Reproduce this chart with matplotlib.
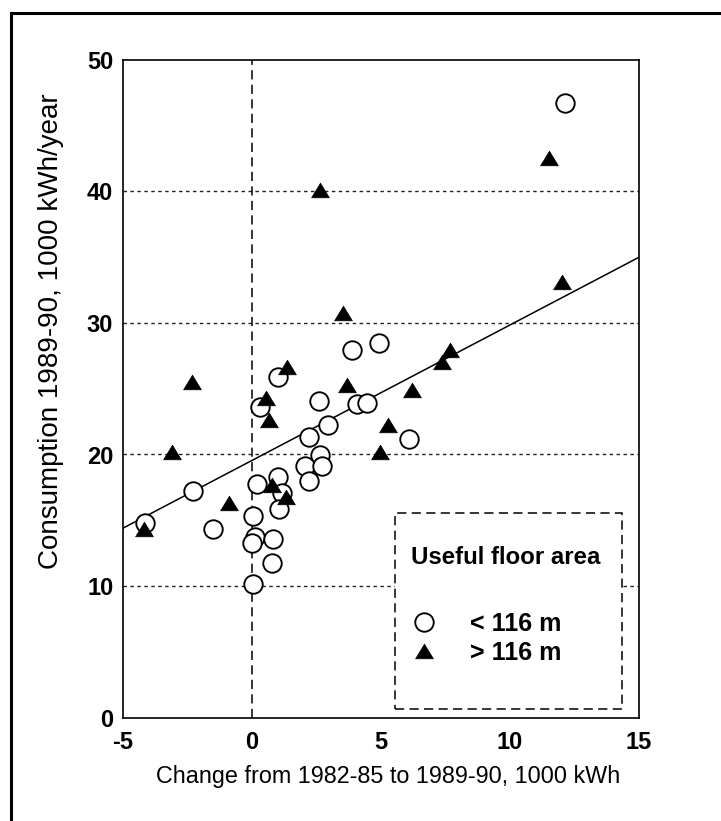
import matplotlib
matplotlib.use("Agg")
import matplotlib.pyplot as plt
from matplotlib.path import Path
from matplotlib.lines import Line2D
from matplotlib.patches import Rectangle
import numpy as np

plt.rcParams['font.family'] = ['Liberation Sans', 'DejaVu Sans']
plt.rcParams['axes.unicode_minus'] = False

# ---- data ----
small_x = [12.13, 3.89, 4.94, 1.00, 0.31, 2.60, 4.08, 4.45, 2.93, 2.22, 6.09,
           2.64, 2.05, 2.70, 2.22, 1.02, 0.18, -2.30, 1.15, 1.06, 0.05, -4.15,
           -1.50, 0.12, -0.01, 0.80, 0.76, 0.03]
small_y = [46.7, 27.95, 28.5, 25.87, 23.59, 24.07, 23.84, 23.94, 22.24, 21.35, 21.16,
           19.96, 19.13, 19.15, 17.98, 18.31, 17.76, 17.25, 17.10, 15.83, 15.32, 14.81,
           14.31, 13.75, 13.29, 13.55, 11.73, 10.13]

large_x = [2.64, 11.52, 12.02, 3.54, 7.67, 7.36, -2.34, 1.34, 3.67, 6.19, 0.54,
           0.67, 5.28, -3.11, 4.96, 0.76, 1.31, -0.88, -4.19]
large_y = [40.1, 42.52, 33.14, 30.74, 27.95, 27.06, 25.54, 26.68, 25.29, 24.9, 24.27,
           22.62, 22.24, 20.21, 20.21, 17.68, 16.79, 16.34, 14.31]

line_x = [-5, 15]
line_y = [14.4, 35.0]

x_ticks = [-5, 0, 5, 10, 15]
y_ticks = [0, 10, 20, 30, 40, 50]
grid_y = [10, 20, 30, 40]

legend_title = "Useful floor area"
legend_labels = ["< 116 m", "> 116 m"]
xlabel = "Change from 1982-85 to 1989-90, 1000 kWh"
ylabel = "Consumption 1989-90, 1000 kWh/year"

# ---- figure ----
W, H = 721, 821
fig = plt.figure(figsize=(W / 100, H / 100), dpi=100)
L, R, T, B = 123, 639, 60, 717.5
ax = fig.add_axes([L / W, 1 - B / H, (R - L) / W, (B - T) / H])

tri = Path([(-1, -0.82), (1, -0.82), (0, 0.82), (-1, -0.82)],
           [Path.MOVETO, Path.LINETO, Path.LINETO, Path.CLOSEPOLY])

ax.set_xlim(-5, 15)
ax.set_ylim(0, 50)

for gy in grid_y:
    ax.axhline(gy, color='#222222', lw=1.0, ls=(0, (2.5, 2.5)), zorder=1)
ax.axvline(0, color='black', lw=1.1, ls=(0, (6, 3.5)), zorder=1)

ax.plot(line_x, line_y, color='black', lw=1.1, zorder=2)

ax.plot(small_x, small_y, ls='none', marker='o', ms=13.3, mfc='white',
        mec='black', mew=1.35, zorder=3)
ax.plot(large_x, large_y, ls='none', marker=tri, ms=12.8, mfc='black',
        mec='black', mew=0.5, zorder=4)

# legend box
def ax_frac(px, py):
    return (px - L) / (R - L), (B - py) / (B - T)

x0, y0 = ax_frac(395, 709)
x1, y1 = ax_frac(622, 513)
ax.add_patch(Rectangle((x0, y0), x1 - x0, y1 - y0, transform=ax.transAxes,
                       facecolor='white', edgecolor='black', lw=1.1,
                       ls=(0, (6, 3.5)), zorder=5))
tx, ty = ax_frac(411, 558)
ax.text(tx, ty, legend_title, transform=ax.transAxes, ha='left', va='center',
        fontsize=17.3, fontweight='bold', zorder=6)

handles = [Line2D([], [], ls='none', marker='o', ms=13.3, mfc='white', mec='black', mew=1.35),
           Line2D([], [], ls='none', marker=tri, ms=12.8, mfc='black', mec='black', mew=0.5)]
lx, ly = ax_frac(411, 612)
leg = ax.legend(handles, legend_labels, loc='upper left', bbox_to_anchor=(lx, ly),
                frameon=False, borderpad=0, borderaxespad=0, handlelength=1.0,
                handletextpad=1.35, labelspacing=0.2,
                prop={'size': 18, 'weight': 'bold'})
leg.set_zorder(7)

for s in ax.spines.values():
    s.set_linewidth(1.2)
    s.set_color('black')

ax.set_xticks(x_ticks)
ax.set_yticks(y_ticks)
ax.set_xticklabels([str(v) for v in x_ticks], fontsize=17, fontweight='bold')
ax.set_yticklabels([str(v) for v in y_ticks], fontsize=17, fontweight='bold')
ax.tick_params(axis='both', length=0)
ax.tick_params(axis='x', pad=10)
ax.tick_params(axis='y', pad=7)

fig.text(388 / W, 1 - 776 / H, xlabel, ha='center', va='center', fontsize=16.8)
fig.text(51 / W, 1 - 331 / H, ylabel, rotation=90, ha='center', va='center',
         fontsize=20)

# outer frame (top and left edges)
fig.add_artist(Line2D([11 / W, 1.0], [1 - 13 / H, 1 - 13 / H], transform=fig.transFigure,
                      color='black', lw=2.2))
fig.add_artist(Line2D([11 / W, 11 / W], [0.0, 1 - 13 / H], transform=fig.transFigure,
                      color='black', lw=2.2))

fig.savefig("out.png", dpi=100)
